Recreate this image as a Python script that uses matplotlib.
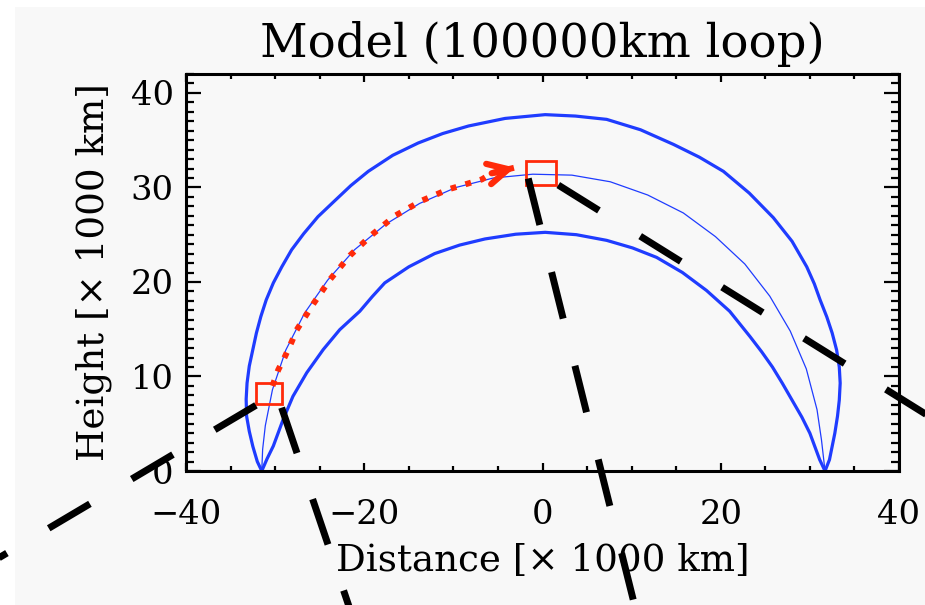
import matplotlib
matplotlib.use("Agg")
import matplotlib.pyplot as plt
from matplotlib.patches import Rectangle, FancyArrowPatch, ArrowStyle
from matplotlib.ticker import MultipleLocator

# loop model (x and height in 1000 km)
outer_x = [-31.5, -32.0, -32.5, -32.9, -33.2, -33.25, -33.15, -32.9, -32.5, -32.1, -31.6,
           -31.0, -30.2, -29.25, -28.15, -26.8, -25.2, -23.3, -21.5, -19.55, -16.8, -13.95,
           -11.2, -8.3, -4.2, 0.3, 3.7, 7.2, 11.0, 14.7, 17.6, 20.3, 23.2, 25.9, 28.0, 29.65,
           30.5, 31.15, 31.9, 32.5, 33.0, 33.3, 33.4, 33.3, 33.1, 32.8, 32.2, 31.7]
outer_y = [0.0, 1.0, 2.6, 4.2, 5.8, 7.6, 9.3, 11.1, 12.85, 14.6, 16.35,
           18.1, 19.9, 21.6, 23.4, 25.1, 26.9, 28.6, 30.2, 31.7, 33.4, 34.7,
           35.7, 36.5, 37.3, 37.7, 37.55, 37.2, 36.1, 34.55, 33.2, 31.7, 29.4, 26.8, 24.3, 21.6,
           19.8, 18.1, 16.3, 14.6, 12.8, 11.0, 9.3, 7.5, 5.8, 4.0, 1.2, 0.0]

mid_x = [-31.5, -31.4, -31.1, -30.3, -28.8, -26.7, -24.1, -21.1, -17.6, -13.8, -9.7,
         -5.5, -1.1, 3.3, 7.6, 11.8, 15.8, 19.4, 22.7, 25.5, 27.8, 29.6, 30.8, 31.3, 31.7]
mid_y = [0.0, 2.3, 4.8, 8.6, 12.8, 16.7, 20.2, 23.4, 26.1, 28.3, 30.0,
         31.0, 31.4, 31.3, 30.6, 29.2, 27.3, 24.8, 21.9, 18.5, 14.8, 10.8, 6.5, 3.3, 0.0]

inner_x = [-31.5, -30.9, -30.2, -29.1, -28.0, -26.45, -24.6, -22.75, -20.5, -19.1, -17.7,
           -15.0, -12.1, -9.3, -6.45, -3.0, 0.3, 3.8, 7.2, 10.1, 12.8, 15.7, 18.4, 21.0, 23.3,
           24.6, 25.8, 26.9, 28.0, 29.1, 30.0, 31.1, 31.7]
inner_y = [0.0, 1.3, 2.65, 5.45, 7.9, 10.4, 12.85, 14.95, 16.9, 18.45, 19.9,
           21.6, 23.0, 23.9, 24.55, 25.05, 25.25, 25.0, 24.4, 23.6, 22.6, 21.0, 19.1, 16.9, 14.2,
           12.6, 11.0, 9.3, 7.5, 5.7, 4.0, 1.2, 0.0]

# red dotted path along the loop, ends at the arrow tip
path_x = [-30.3, -29.65, -28.9, -28.15, -27.6, -25.7, -23.85, -21.6, -19.2, -16.55, -13.55,
          -10.55, -6.8, -5.7]
path_y = [9.0, 10.7, 12.1, 13.65, 14.9, 17.7, 20.25, 22.8, 24.95, 27.0, 28.6,
          29.8, 30.85, 31.5]
arrow_tip = (-3.1, 32.1)

# red boxes (left, bottom, right, top)
box_left = [-32.15, -1.85]
box_bottom = [7.05, 30.3]
box_right = [-29.2, 1.5]
box_top = [9.3, 32.8]

# black guide lines from the box corners, running off the frame
guide_x0 = [-32.15, -29.27, -1.6, 1.77]
guide_y0 = [6.95, 6.7, 30.95, 30.25]
guide_x1 = [-72.1, -18.2, 12.95, 51.35]
guide_y1 = [-15.4, -24.1, -24.1, 1.1]

BLUE = "#1f3cff"
RED = "#ff2a0a"

plt.rcParams["font.family"] = ["DejaVu Serif"]
plt.rcParams["lines.scale_dashes"] = False

fig = plt.figure(figsize=(9.25, 6.05), dpi=100, facecolor="white")
fig.add_artist(Rectangle((15 / 925, 0), 1, 598 / 605, transform=fig.transFigure,
                         facecolor="#f8f8f8", edgecolor="none", zorder=-10))
ax = fig.add_axes([186 / 925, 134 / 605, 713 / 925, 397 / 605])
ax.set_facecolor("none")

ax.plot(outer_x, outer_y, color=BLUE, lw=2.3, solid_joinstyle="round")
ax.plot(mid_x, mid_y, color=BLUE, lw=0.9)
ax.plot(inner_x, inner_y, color=BLUE, lw=2.3, solid_joinstyle="round")

ax.plot(path_x + [arrow_tip[0]], path_y + [arrow_tip[1]], color=RED, lw=4.3,
        linestyle=(0, (4.2, 6.8)), dash_capstyle="butt", zorder=4)
head = ArrowStyle("->", head_length=14.5, head_width=7.5)
ax.add_patch(FancyArrowPatch((path_x[-1], path_y[-1]), arrow_tip, arrowstyle=head,
                             mutation_scale=1, lw=4.5, color=RED, shrinkA=0, shrinkB=0,
                             capstyle="round", zorder=4))

for l, b, r, t in zip(box_left, box_bottom, box_right, box_top):
    ax.add_patch(Rectangle((l, b), r - l, t - b, fill=False, edgecolor=RED, lw=2.0, zorder=5))

for x0, y0, x1, y1 in zip(guide_x0, guide_y0, guide_x1, guide_y1):
    ax.plot([x0, x1], [y0, y1], color="black", lw=5.0, linestyle=(0, (34.5, 35.0)),
            dash_capstyle="butt", clip_on=False, zorder=6)

ax.set_xlim(-40, 40)
ax.set_ylim(0, 42)
ax.xaxis.set_major_locator(MultipleLocator(20))
ax.xaxis.set_minor_locator(MultipleLocator(5))
ax.yaxis.set_major_locator(MultipleLocator(10))
ax.yaxis.set_minor_locator(MultipleLocator(1))

for s in ax.spines.values():
    s.set_linewidth(2.2)
ax.tick_params(which="both", direction="in", top=True, right=True, width=1.6,
               labelsize=24.3)
ax.tick_params(axis="x", which="major", length=6, pad=20)
ax.tick_params(axis="x", which="minor", length=3.5)
ax.tick_params(axis="y", which="major", length=11, pad=9)
ax.tick_params(axis="y", which="minor", length=5.5)

ax.set_title("Model (100000km loop)", fontsize=33.5, pad=12)
ax.set_xlabel("Distance [× 1000 km]", fontsize=26.8, labelpad=9)
ax.set_ylabel("Height [× 1000 km]", fontsize=26.8, labelpad=13)

fig.savefig("out.png", dpi=100, facecolor=fig.get_facecolor())
